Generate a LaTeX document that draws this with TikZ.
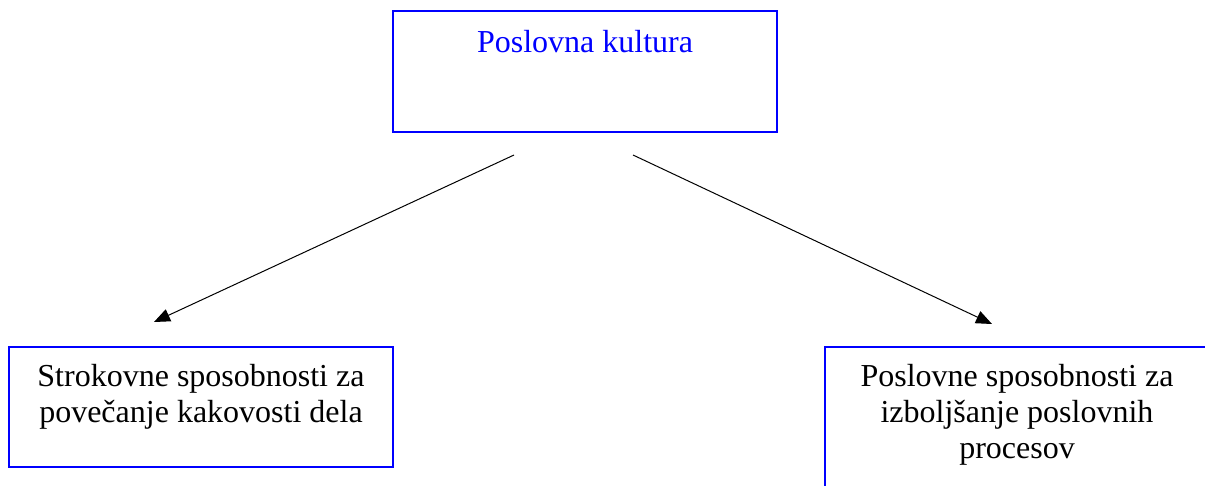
\documentclass[tikz,border=0pt]{standalone}
\usepackage{fontspec}
\setmainfont{Liberation Serif}
\usetikzlibrary{arrows.meta}
\definecolor{boxblue}{RGB}{0,0,255}
\begin{document}
\begin{tikzpicture}[x=1pt,y=-1pt,
  box/.style={draw=boxblue, line width=2pt, rectangle, inner sep=0pt, fill=none},
  txt/.style={font=\fontsize{32}{36}\selectfont, align=center, inner sep=0pt},
  arr/.style={line width=1pt, -{Triangle[length=16pt,width=13pt]}}]
\clip (0,0) rectangle (1205,485);
\fill[white] (0,0) rectangle (1205,485);
% boxes
\node[box, minimum width=384pt, minimum height=121pt] (topbox) at (585,71.5) {};
\node[box, minimum width=384pt, minimum height=120pt] (leftbox) at (201,407) {};
\node[box, minimum width=384pt, minimum height=156pt] (rightbox) at (1017,425) {};
% texts (anchor base = baseline of the last line)
\node[txt, text=boxblue, anchor=base] (toptext) at (585,52) {Poslovna kultura};
\node[txt, anchor=base] (lefttext) at (201,422) {Strokovne sposobnosti za\\povečanje kakovosti dela};
\node[txt, anchor=base] (righttext) at (1017,458) {Poslovne sposobnosti za\\izboljšanje poslovnih\\procesov};
% arrows
\coordinate (s1) at (514,155);
\coordinate (t1) at (154,322);
\coordinate (s2) at (633,155);
\coordinate (t2) at (992,324);
\draw[arr] (s1) -- (t1);
\draw[arr] (s2) -- (t2);
\end{tikzpicture}
\end{document}
